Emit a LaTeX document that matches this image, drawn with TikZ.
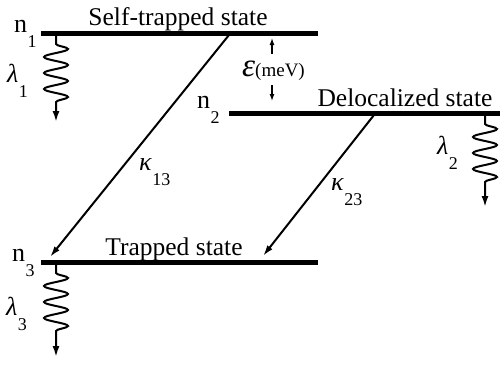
\documentclass[tikz,border=0pt]{standalone}
\usepackage{fontspec}
\setmainfont{Liberation Serif}
\usetikzlibrary{arrows.meta,decorations.pathmorphing}
\newcommand{\sublab}[2]{#1\kern0.5pt\raisebox{-15pt}{\fontsize{18}{18}\selectfont #2}}
\begin{document}
\begin{tikzpicture}[x=1pt,y=-1pt,
  level/.style={line width=5pt},
  trans/.style={line width=2pt,-{Latex[length=11pt,width=6.5pt]}},
  decay/.style={line width=2pt,-{Latex[length=11pt,width=7pt]},
    decoration={snake,segment length=16pt,amplitude=12pt}},
  gap/.style={line width=1.3pt,-{Latex[length=7pt,width=5pt]}},
  lbl/.style={inner sep=0pt,anchor=base,font=\fontsize{25.5}{30}\selectfont},
  sym/.style={inner sep=0pt,anchor=base west,font=\fontsize{26}{30}\selectfont}]
\useasboundingbox (0,0) rectangle (503,367);
% levels
\coordinate (L1a) at (41,33);  \coordinate (L1b) at (318,33);
\coordinate (L2a) at (229,113); \coordinate (L2b) at (500,113);
\coordinate (L3a) at (41,262); \coordinate (L3b) at (318,262);
\draw[level] (L1a) -- (L1b);
\draw[level] (L2a) -- (L2b);
\draw[level] (L3a) -- (L3b);
% transitions
\coordinate (k13s) at (229,35); \coordinate (k13e) at (50,257);
\coordinate (k23s) at (374,115); \coordinate (k23e) at (263,256);
\draw[trans] (k13s) -- (k13e);
\draw[trans] (k23s) -- (k23e);
% decays
\coordinate (w1a) at (56,35);  \coordinate (w1b) at (56,44);  \coordinate (w1c) at (56,108); \coordinate (w1d) at (56,122);
\coordinate (w2a) at (485,115); \coordinate (w2b) at (485,124); \coordinate (w2c) at (485,188); \coordinate (w2d) at (485,207);
\coordinate (w3a) at (56,264); \coordinate (w3b) at (56,273); \coordinate (w3c) at (56,337); \coordinate (w3d) at (56,357);
\draw[decay] (w1a) -- (w1b) decorate {-- (w1c)} -- (w1d);
\draw[decay] (w2a) -- (w2b) decorate {-- (w2c)} -- (w2d);
\draw[decay] (w3a) -- (w3b) decorate {-- (w3c)} -- (w3d);
% energy gap
\coordinate (ga) at (272,54); \coordinate (gb) at (272,38);
\coordinate (gc) at (272,85); \coordinate (gd) at (272,101);
\draw[gap] (ga) -- (gb);
\draw[gap] (gc) -- (gd);
\node[inner sep=0pt,anchor=base west] (eps) at (242,76)
  {\fontsize{33}{33}\selectfont\textit{ε}\fontsize{19}{19}\selectfont(meV)};
% labels
\node[lbl] (t1) at (178,25) {Self-trapped state};
\node[lbl] (t2) at (405,106) {Delocalized state};
\node[lbl] (t3) at (174,255) {Trapped state};
\node[sym] (n1) at (14,32) {\sublab{n}{1}};
\node[sym] (n2) at (197,108) {\sublab{n}{2}};
\node[sym] (n3) at (12,261) {\sublab{n}{3}};
\node[sym] (l1) at (7,82) {\sublab{\textit{λ}}{1}};
\node[sym] (l2) at (437,154) {\sublab{\textit{λ}}{2}};
\node[sym] (l3) at (6,315) {\sublab{\textit{λ}}{3}};
\node[sym] (k13) at (139,170) {\sublab{\textit{κ}}{13}};
\node[sym] (k23) at (331,190) {\sublab{\textit{κ}}{23}};
\end{tikzpicture}
\end{document}
